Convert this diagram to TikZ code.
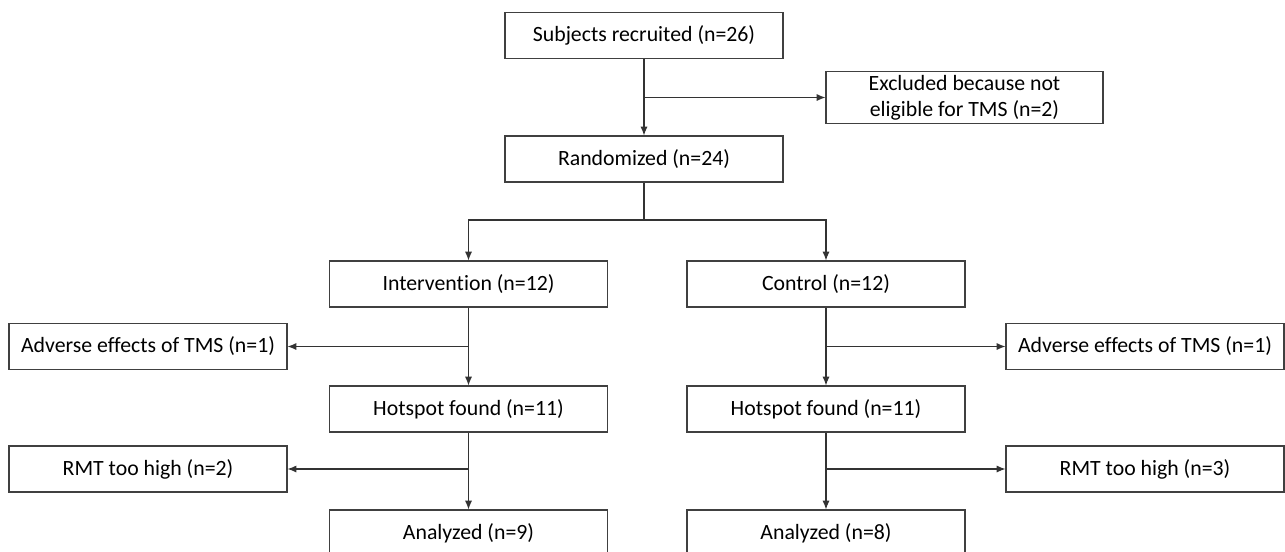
\documentclass[tikz,border=0pt]{standalone}
\usepackage{fontspec}
\setmainfont[Ligatures=CommonOff]{Carlito}
\usetikzlibrary{arrows.meta}

\tikzset{
  box/.style={draw=black!75, line width=0.6pt, minimum width=5.56cm,
    minimum height=0.92cm, inner sep=2pt, align=center,
    font=\fontsize{12.4}{15}\selectfont},
  link/.style={draw=black!80, line width=0.6pt},
  >={Latex[length=5pt,width=4pt]}
}

\begin{document}
\begin{tikzpicture}
    \useasboundingbox (0,0) rectangle (25.7,-11.02);
    \node[box] (sub) at (12.88,-0.71)
    {Subjects recruited (n=26)}; \node[box, minimum width=5.54cm, minimum height=0.94cm] (excl) at (19.29,-1.95)
    {Excluded because not\\eligible for TMS (n=2)}; \node[box] (rand) at (12.88,-3.18)
    {Randomized (n=24)};
    \node[box] (int) at (9.37,-5.68)
    {Intervention (n=12)}; \node[box] (ctl) at (16.52,-5.68)
    {Control (n=12)};
    \node[box] (advL) at (2.96,-6.93)
    {Adverse effects of TMS (n=1)}; \node[box] (advR) at (22.9,-6.93)
    {Adverse effects of TMS (n=1)};
    \node[box] (hotL) at (9.37,-8.18)
    {Hotspot found (n=11)}; \node[box] (hotR) at (16.52,-8.18)
    {Hotspot found (n=11)};
    \node[box] (rmtL) at (2.96,-9.38)
    {RMT too high (n=2)}; \node[box] (rmtR) at (22.9,-9.38)
    {RMT too high (n=3)};
    \node[box] (anaL) at (9.37,-10.66)
    {Analyzed (n=9)}; \node[box] (anaR) at (16.52,-10.66)
    {Analyzed (n=8)};
    \coordinate (split) at (12.88,-4.4);
    % main flow
    \draw[link,->] (sub) -- (rand);
    \draw[link,->] (sub |- excl) -- (excl);
    \draw[link] (rand) -- (split);
    \draw[link,->] (split) -| (int);
    \draw[link,->] (split) -| (ctl);
    % intervention arm
    \draw[link,->] (int) -- (hotL);
    \draw[link,->] (int |- advL) -- (advL);
    \draw[link,->] (hotL) -- (anaL);
    \draw[link,->] (hotL |- rmtL) -- (rmtL);
    % control arm
    \draw[link,->] (ctl) -- (hotR);
    \draw[link,->] (ctl |- advR) -- (advR);
    \draw[link,->] (hotR) -- (anaR);
    \draw[link,->] (hotR |- rmtR) -- (rmtR);
  \end{tikzpicture}
\end{document}
